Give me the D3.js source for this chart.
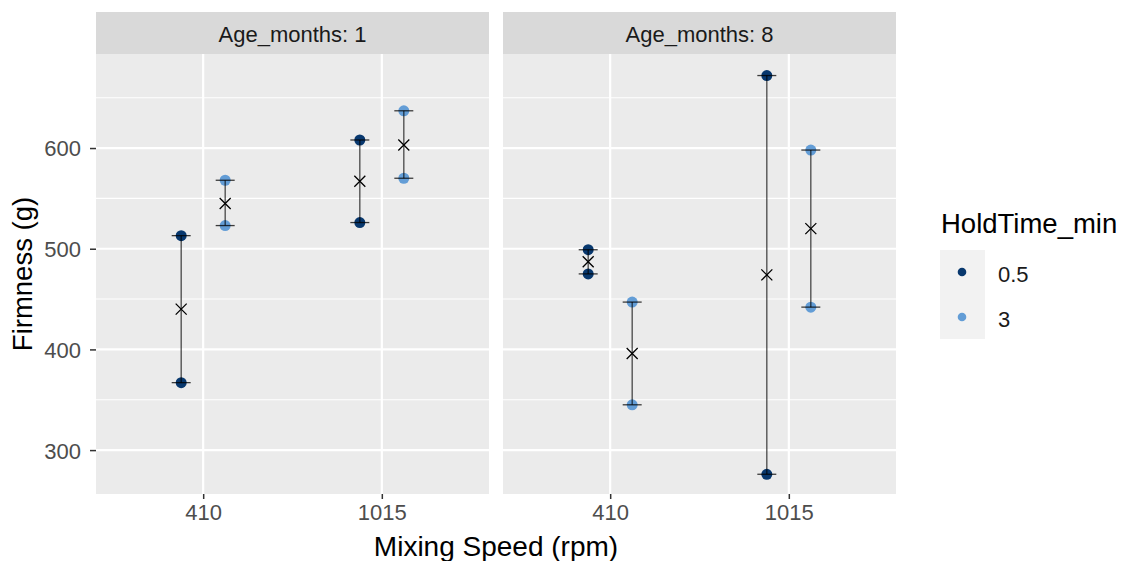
<!DOCTYPE html>
<html>
<head>
<meta charset="utf-8">
<script src="https://cdn.jsdelivr.net/npm/d3@7"></script>
<style>
body { margin: 0; background: #fff; }
svg { font-family: "Liberation Sans", Arial, sans-serif; }
</style>
</head>
<body>
<svg id="chart" width="1123" height="561"></svg>
<script>

// facets, speeds and hold times
var ages = ["1", "8"];
var speeds = ["410", "1015"];
var holds = ["0.5", "3"];

// firmness range per (age, speed, hold): low, high and the mean cross
var age1Low  = [367, 523, 526, 570];
var age1High = [513, 568, 608, 637];
var age1Mean = [440, 545, 567, 603];
var age8Low  = [475, 345, 276, 442];
var age8High = [499, 447, 672, 598];
var age8Mean = [487, 396, 474, 520];
// order of the four groups in each array above
var groupSpeed = ["410", "410", "1015", "1015"];
var groupHold  = ["0.5", "3", "0.5", "3"];

var yTicks = [300, 400, 500, 600];
var yMinor = [350, 450, 550, 650];

var colors = { "0.5": "#08386e", "3": "#639dd6" };

var svg = d3.select("#chart");

var panelW = 393, panelGap = 14, panelTop = 54, panelBottom = 494, stripH = 42;
var left = 96;

var y = d3.scaleLinear()
    .domain([256.4, 693.4])
    .range([panelBottom, panelTop]);

// discrete x with ggplot style 0.6 expansion
var xBand = d3.scalePoint()
    .domain(speeds)
    .range([panelW * 0.6 / 2.2, panelW * 1.6 / 2.2]);

var dodge = d3.scalePoint()
    .domain(holds)
    .range([-22, 22]);

var panels = [
  { age: ages[0], low: age1Low, high: age1High, mean: age1Mean },
  { age: ages[1], low: age8Low, high: age8High, mean: age8Mean }
];

panels.forEach(function(p, pi) {
  var g = svg.append("g")
      .attr("transform", "translate(" + (left + pi * (panelW + panelGap)) + ",0)");

  // strip
  g.append("rect")
      .attr("x", 0).attr("y", panelTop - stripH)
      .attr("width", panelW).attr("height", stripH)
      .attr("fill", "#d9d9d9");
  g.append("text")
      .attr("x", panelW / 2).attr("y", 42)
      .attr("text-anchor", "middle")
      .attr("font-size", 22).attr("fill", "#1a1a1a")
      .text("Age_months: " + p.age);

  // panel background
  g.append("rect")
      .attr("x", 0).attr("y", panelTop)
      .attr("width", panelW).attr("height", panelBottom - panelTop)
      .attr("fill", "#ebebeb");

  // grid
  g.selectAll(".minor").data(yMinor).enter().append("line")
      .attr("x1", 0).attr("x2", panelW)
      .attr("y1", function(d) { return y(d); })
      .attr("y2", function(d) { return y(d); })
      .attr("stroke", "#fff").attr("stroke-width", 1.1);
  g.selectAll(".major").data(yTicks).enter().append("line")
      .attr("x1", 0).attr("x2", panelW)
      .attr("y1", function(d) { return y(d); })
      .attr("y2", function(d) { return y(d); })
      .attr("stroke", "#fff").attr("stroke-width", 2.2);
  g.selectAll(".vmajor").data(speeds).enter().append("line")
      .attr("x1", function(d) { return xBand(d); })
      .attr("x2", function(d) { return xBand(d); })
      .attr("y1", panelTop).attr("y2", panelBottom)
      .attr("stroke", "#fff").attr("stroke-width", 2.2);

  // x axis
  var xa = g.append("g")
      .attr("transform", "translate(0," + panelBottom + ")")
      .call(d3.axisBottom(xBand).tickSize(5).tickPadding(5));
  xa.select(".domain").remove();
  xa.selectAll(".tick line").attr("stroke", "#333").attr("stroke-width", 1.5);
  xa.selectAll(".tick text")
      .attr("font-size", 22).attr("fill", "#4d4d4d").attr("dy", "0.71em");

  if (pi === 0) {
    var ya = g.append("g")
        .call(d3.axisLeft(y).tickValues(yTicks).tickSize(6).tickPadding(9));
    ya.select(".domain").remove();
    ya.selectAll(".tick line").attr("stroke", "#333").attr("stroke-width", 1.5);
    ya.selectAll(".tick text")
        .attr("font-size", 22).attr("fill", "#4d4d4d").attr("dy", "0.36em");
  }

  var rows = groupSpeed.map(function(s, i) {
    return { speed: s, hold: groupHold[i], low: p.low[i], high: p.high[i], mean: p.mean[i] };
  });
  function cx(d) { return xBand(d.speed) + dodge(d.hold); }

  // points at both ends
  rows.forEach(function(d) {
    [d.low, d.high].forEach(function(v) {
      g.append("circle")
          .attr("cx", cx(d)).attr("cy", y(v)).attr("r", 5.5)
          .attr("fill", colors[d.hold]);
    });
  });

  // error bars
  var eb = g.selectAll(".eb").data(rows).enter().append("g");
  eb.append("line")
      .attr("x1", cx).attr("x2", cx)
      .attr("y1", function(d) { return y(d.low); })
      .attr("y2", function(d) { return y(d.high); })
      .attr("stroke", "#000").attr("stroke-opacity", 0.7).attr("stroke-width", 1.3);
  ["low", "high"].forEach(function(k) {
    eb.append("line")
        .attr("x1", function(d) { return cx(d) - 9.5; })
        .attr("x2", function(d) { return cx(d) + 9.5; })
        .attr("y1", function(d) { return y(d[k]); })
        .attr("y2", function(d) { return y(d[k]); })
        .attr("stroke", "#000").attr("stroke-opacity", 0.75).attr("stroke-width", 1.3);
  });

  // mean cross
  eb.append("path")
      .attr("d", function(d) {
        var x0 = cx(d), y0 = y(d.mean), s = 5.5;
        return "M" + (x0 - s) + "," + (y0 - s) + "L" + (x0 + s) + "," + (y0 + s) +
               "M" + (x0 - s) + "," + (y0 + s) + "L" + (x0 + s) + "," + (y0 - s);
      })
      .attr("stroke", "#000").attr("stroke-width", 1.3).attr("fill", "none");
});

// axis titles
svg.append("text")
    .attr("x", left + panelW + panelGap / 2).attr("y", 556)
    .attr("text-anchor", "middle").attr("font-size", 28).attr("fill", "#000")
    .text("Mixing Speed (rpm)");
svg.append("text")
    .attr("transform", "translate(32," + ((panelTop + panelBottom) / 2) + ") rotate(-90)")
    .attr("text-anchor", "middle").attr("font-size", 27.5).attr("fill", "#000")
    .text("Firmness (g)");

// legend
var lg = svg.append("g").attr("transform", "translate(940,0)");
lg.append("text")
    .attr("x", 1).attr("y", 233)
    .attr("font-size", 27.5).attr("fill", "#000")
    .text("HoldTime_min");
lg.append("rect")
    .attr("x", 0).attr("y", 250).attr("width", 45).attr("height", 89)
    .attr("fill", "#f2f2f2");
holds.forEach(function(h, i) {
  var yy = 272 + i * 45;
  lg.append("circle").attr("cx", 22).attr("cy", yy).attr("r", 4.3).attr("fill", colors[h]);
  lg.append("text").attr("x", 58).attr("y", yy + 10)
      .attr("font-size", 22).attr("fill", "#1a1a1a").text(h);
});

</script>
</body>
</html>
